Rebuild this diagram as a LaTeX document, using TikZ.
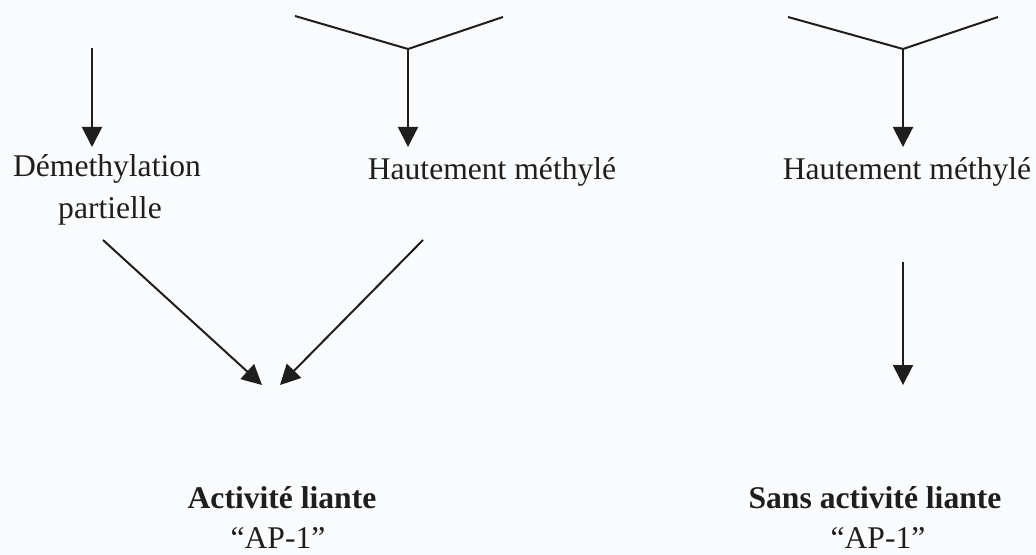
\documentclass[tikz,border=0pt]{standalone}
\usepackage{fontspec}
\setmainfont{Liberation Serif}
\usetikzlibrary{arrows.meta}
\definecolor{paper}{RGB}{249,251,252}
\definecolor{ink}{RGB}{30,30,30}

\begin{document}
\begin{tikzpicture}[x=0.5pt,y=-0.5pt,
  arr/.style={draw=ink,line width=1pt,-{Triangle[length=10pt,width=10pt]}},
  branch/.style={draw=ink,line width=1pt},
  txt/.style={anchor=base,inner sep=0pt,text=ink,font=\fontsize{15.8}{19}\selectfont},
  boldtxt/.style={txt,font=\fontsize{15.8}{19}\selectfont\bfseries}]

\useasboundingbox (0,0) rectangle (1036,555);
\fill[paper] (0,0) rectangle (1036,555);

\coordinate (s1) at (92,48);
\coordinate (t1) at (92,147);

\coordinate (a1) at (295,16);
\coordinate (j1) at (408,49);
\coordinate (b1) at (503,17);
\coordinate (t2) at (408,147);

\coordinate (a2) at (788,17);
\coordinate (j2) at (903,49);
\coordinate (b2) at (998,17);
\coordinate (t3) at (903,147);

\node[txt] (demeth) at (107,177) {Démethylation};
\node[txt] (part) at (110,219) {partielle};
\node[txt] (haut1) at (492,180) {Hautement méthylé};
\node[txt] (haut2) at (907,180) {Hautement méthylé};

\coordinate (d1) at (103,240);
\coordinate (d2) at (423,240);
\coordinate (m1) at (262,385);
\coordinate (m2) at (280,385);

\coordinate (v1) at (903,262);
\coordinate (v2) at (903,385);

\node[boldtxt] (actif) at (282,508) {Activité liante};
\node[txt] (ap1) at (278,548) {“AP-1”};
\node[boldtxt] (sans) at (875,508) {Sans activité liante};
\node[txt] (ap2) at (878,548) {“AP-1”};

\draw[arr] (s1) -- (t1);

\draw[branch] (a1) -- (j1);
\draw[branch] (b1) -- (j1);
\draw[arr] (j1) -- (t2);

\draw[branch] (a2) -- (j2);
\draw[branch] (b2) -- (j2);
\draw[arr] (j2) -- (t3);

\draw[arr] (d1) -- (m1);
\draw[arr] (d2) -- (m2);
\draw[arr] (v1) -- (v2);
\end{tikzpicture}
\end{document}
